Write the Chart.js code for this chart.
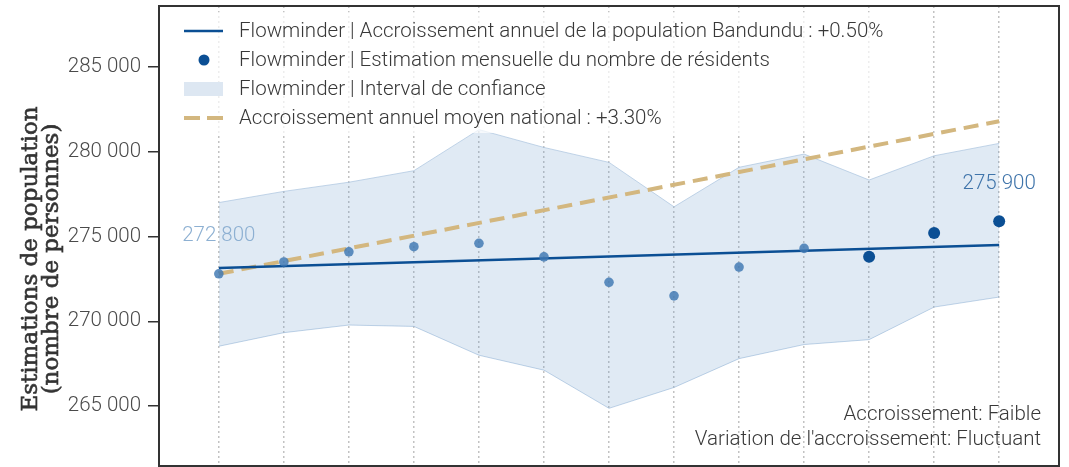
<!DOCTYPE html>
<html>
<head>
<meta charset="utf-8">
<script src="https://cdn.jsdelivr.net/npm/chart.js@4"></script>
<style>
  html, body { margin: 0; padding: 0; background: #fff; }
  #wrap { width: 1069px; height: 467px; }
</style>
</head>
<body>
<div id="wrap"><canvas id="popChart" width="1069" height="467"></canvas></div>
<script>
// month index along the x axis (labels are cut off in the source picture)
const months = [0, 1, 2, 3, 4, 5, 6, 7, 8, 9, 10, 11, 12];
const residents = [272800, 273500, 274100, 274400, 274600, 273800, 272300, 271500, 273200, 274300, 273800, 275200, 275900];
const ciUpper = [277000, 277660, 278200, 278880, 281300, 280250, 279370, 276750, 279080, 279860, 278330, 279760, 280490];
const ciLower = [268530, 269330, 269780, 269700, 268000, 267120, 264870, 266100, 267800, 268630, 268920, 270840, 271430];
const trendBandundu = [273150, 274500];   // at first and last month
const trendNational = [272800, 281800];
const yTicks = [265000, 270000, 275000, 280000, 285000];
const legendLabels = [
  "Flowminder | Accroissement annuel de la population Bandundu : +0.50%",
  "Flowminder | Estimation mensuelle du nombre de résidents",
  "Flowminder | Interval de confiance",
  "Accroissement annuel moyen national : +3.30%"
];
const notes = ["Accroissement: Faible", "Variation de l'accroissement: Fluctuant"];
const yTitle = ["Estimations de population", "(nombre de personnes)"];
const recentFrom = 10; // last months drawn darker

const DARK = "#0b4f94";
const LIGHT_PT = "rgba(62, 120, 178, 0.82)";
const TAN = "#d3b77f";
const BAND = "rgba(100, 150, 200, 0.2)";
const SANS = "Roboto, 'Noto Sans', sans-serif";
const PLOT_BOTTOM = 466;

function fmt(v) {
  return String(v).replace(/\B(?=(\d{3})+(?!\d))/g, " ");
}

const ends = [months[0], months[months.length - 1]];

// stretch the plot area down to the bottom edge (the source is cropped there)
const stretch = {
  id: "stretch",
  afterLayout(chart) {
    const a = chart.chartArea;
    a.bottom = PLOT_BOTTOM;
    a.height = a.bottom - a.top;
    const y = chart.scales.y;
    y.bottom = PLOT_BOTTOM;
    y.height = y.bottom - y.top;
    y.configure();
    const x = chart.scales.x;
    x.top = PLOT_BOTTOM;
    x.bottom = PLOT_BOTTOM;
  }
};

const overlay = {
  id: "overlay",
  afterDatasetsDraw(chart) {
    const { ctx, chartArea: a, scales } = chart;
    const x = scales.x, y = scales.y;

    // value labels on first and last point
    ctx.save();
    ctx.font = "300 20.5px " + SANS;
    ctx.textAlign = "center";
    ctx.textBaseline = "alphabetic";
    ctx.fillStyle = "#8db0d2";
    ctx.fillText(fmt(residents[0]), x.getPixelForValue(months[0]), y.getPixelForValue(residents[0]) - 33);
    ctx.fillStyle = "#3f74aa";
    const li = residents.length - 1;
    ctx.fillText(fmt(residents[li]), x.getPixelForValue(months[li]), y.getPixelForValue(residents[li]) - 32);
    ctx.restore();

    // legend box
    ctx.save();
    ctx.fillStyle = "rgba(255,255,255,0.7)";
    ctx.fillRect(a.left + 10, a.top + 6, 735, 121);
    ctx.font = "300 20.5px " + SANS;
    ctx.textBaseline = "middle";
    const rows = [31, 60, 89, 118];
    const sx0 = 184, sx1 = 223, tx = 239;
    ctx.strokeStyle = DARK; ctx.lineWidth = 2.5;
    ctx.beginPath(); ctx.moveTo(sx0, rows[0]); ctx.lineTo(sx1, rows[0]); ctx.stroke();
    ctx.fillStyle = DARK;
    ctx.beginPath(); ctx.arc(204, rows[1], 5.5, 0, Math.PI * 2); ctx.fill();
    ctx.fillStyle = "#dde7f2";
    ctx.fillRect(sx0, rows[2] - 7, sx1 - sx0, 14);
    ctx.strokeStyle = TAN; ctx.lineWidth = 4; ctx.setLineDash([16, 7]);
    ctx.beginPath(); ctx.moveTo(sx0, rows[3]); ctx.lineTo(sx1, rows[3]); ctx.stroke();
    ctx.setLineDash([]);
    ctx.fillStyle = "#383838";
    legendLabels.forEach((t, i) => ctx.fillText(t, tx, rows[i] + 1));
    ctx.restore();

    // notes bottom right
    ctx.save();
    ctx.font = "300 20.5px " + SANS;
    ctx.fillStyle = "#383838";
    ctx.textAlign = "right";
    ctx.fillText(notes[0], 1041, 420);
    ctx.fillText(notes[1], 1041, 445);
    ctx.restore();

    // frame
    ctx.save();
    ctx.strokeStyle = "#333";
    ctx.lineWidth = 2;
    ctx.strokeRect(a.left, a.top, a.right - a.left, a.bottom - a.top);
    ctx.restore();

    // y title
    ctx.save();
    ctx.font = "23px 'DejaVu Serif', serif";
    ctx.fillStyle = "#333";
    ctx.strokeStyle = "#333";
    ctx.lineWidth = 0.6;
    ctx.textAlign = "center";
    ctx.textBaseline = "alphabetic";
    [37, 58].forEach((bx, i) => {
      ctx.save();
      ctx.translate(bx, 259);
      ctx.rotate(-Math.PI / 2);
      ctx.fillText(yTitle[i], 0, 0);
      ctx.strokeText(yTitle[i], 0, 0);
      ctx.restore();
    });
    ctx.restore();
  }
};

new Chart(document.getElementById("popChart"), {
  type: "line",
  data: {
    datasets: [
      {
        label: "estimation",
        data: months.map((m, i) => ({ x: m, y: residents[i] })),
        showLine: false,
        pointRadius: ctx => ctx.dataIndex >= recentFrom ? 6 : 4.8,
        pointBackgroundColor: ctx => ctx.dataIndex >= recentFrom ? DARK : LIGHT_PT,
        pointBorderWidth: 0,
        order: 0
      },
      {
        label: "bandundu",
        data: ends.map((m, i) => ({ x: m, y: trendBandundu[i] })),
        borderColor: DARK,
        borderWidth: 2.5,
        pointRadius: 0,
        order: 1
      },
      {
        label: "national",
        data: ends.map((m, i) => ({ x: m, y: trendNational[i] })),
        borderColor: TAN,
        borderWidth: 4,
        borderDash: [15, 8],
        pointRadius: 0,
        order: 2
      },
      {
        label: "upper",
        data: months.map((m, i) => ({ x: m, y: ciUpper[i] })),
        borderColor: "rgba(170, 195, 222, 0.7)",
        borderWidth: 1,
        backgroundColor: BAND,
        fill: "+1",
        pointRadius: 0,
        order: 3
      },
      {
        label: "lower",
        data: months.map((m, i) => ({ x: m, y: ciLower[i] })),
        borderColor: "rgba(170, 195, 222, 0.7)",
        borderWidth: 1,
        pointRadius: 0,
        fill: false,
        order: 4
      }
    ]
  },
  options: {
    responsive: false,
    animation: false,
    layout: { padding: { top: 5, right: 10, bottom: 1, left: 0 } },
    plugins: {
      legend: { display: false },
      tooltip: { enabled: false }
    },
    scales: {
      x: {
        type: "linear",
        min: -0.92,
        max: 12.92,
        afterBuildTicks: s => { s.ticks = months.map(v => ({ value: v })); },
        afterFit: s => { s.height = 0; s.paddingLeft = 0; s.paddingRight = 0; s.paddingTop = 0; s.paddingBottom = 0; },
        ticks: { display: false },
        grid: {
          drawTicks: false,
          color: "#c2c2c2",
          lineWidth: 1.5
        },
        border: { display: false, dash: [2, 3] }
      },
      y: {
        min: 261470,
        max: 288590,
        afterBuildTicks: s => { s.ticks = yTicks.map(v => ({ value: v })); },
        afterFit: s => { s.width = 159; s.paddingTop = 0; s.paddingBottom = 0; s.paddingLeft = 0; s.paddingRight = 0; },
        border: { display: false },
        grid: {
          drawOnChartArea: false,
          drawTicks: true,
          tickLength: 11,
          color: "#333",
          lineWidth: 1.5
        },
        ticks: {
          padding: 7,
          color: "#4a4a4a",
          font: { family: SANS, size: 20.5, weight: "300" },
          callback: v => fmt(v)
        }
      }
    }
  },
  plugins: [stretch, overlay]
});
</script>
</body>
</html>
